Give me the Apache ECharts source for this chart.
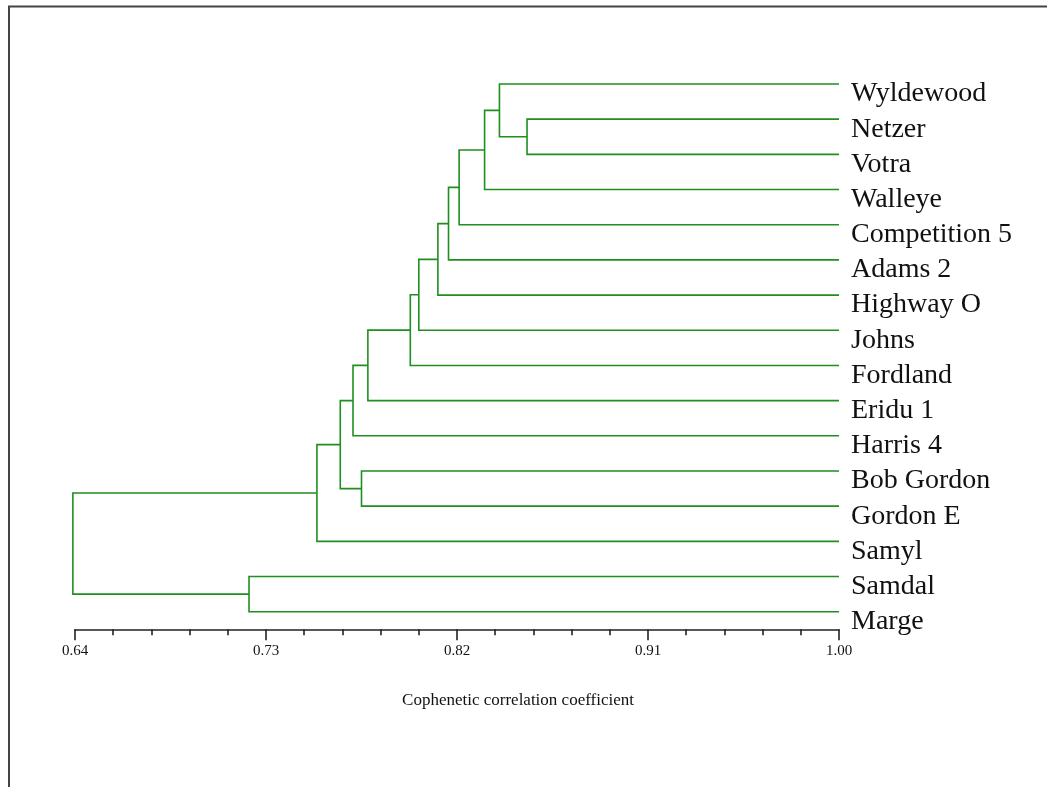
<!DOCTYPE html>
<html>
<head>
<meta charset="utf-8">
<script src="https://cdn.jsdelivr.net/npm/echarts@6/dist/echarts.min.js"></script>
<style>
html,body{margin:0;padding:0;background:#fff;}
#chart{width:1047px;height:787px;}
</style>
</head>
<body>
<div id="chart"></div>
<script>
// Leaves, top to bottom
const leaves = ["Wyldewood","Netzer","Votra","Walleye","Competition 5","Adams 2","Highway O","Johns","Fordland","Eridu 1","Harris 4","Bob Gordon","Gordon E","Samyl","Samdal","Marge"];
// Merges (children referenced by leaf name or merge id "m1".."m15")
const mergeLeft   = ["Netzer","Wyldewood","m2","m3","m4","m5","m6","m7","m8","m9","Bob Gordon","m10","m12","Samdal","m13"];
const mergeRight  = ["Votra","m1","Walleye","Competition 5","Adams 2","Highway O","Johns","Fordland","Eridu 1","Harris 4","Gordon E","m11","Samyl","Marge","m14"];
const mergeHeight = [0.853,0.840,0.833,0.821,0.816,0.811,0.802,0.798,0.778,0.771,0.775,0.765,0.754,0.722,0.639];
// Axis
const leafHeight = 1.00;
const xMin = 0.64, xMax = 1.00;
const majorTicks = [0.64, 0.73, 0.82, 0.91, 1.00];
const axisTitle = "Cophenetic correlation coefficient";

// Build node positions
const nodeY = {}, nodeH = {};
leaves.forEach((n, i) => { nodeY[n] = i; nodeH[n] = leafHeight; });
const mergeData = [];
mergeHeight.forEach((h, k) => {
  const a = mergeLeft[k], b = mergeRight[k];
  const ya = nodeY[a], yb = nodeY[b];
  mergeData.push([h, ya, yb, nodeH[a], nodeH[b]]);
  const id = "m" + (k + 1);
  nodeY[id] = (ya + yb) / 2;
  nodeH[id] = h;
});
const labelData = leaves.map((n, i) => [leafHeight, i, n]);

// minor ticks: 5 divisions between majors
const minorTicks = [];
for (let i = 0; i < majorTicks.length - 1; i++) {
  const step = (majorTicks[i + 1] - majorTicks[i]) / 5;
  for (let j = 1; j < 5; j++) minorTicks.push(+(majorTicks[i] + step * j).toFixed(4));
}

const green = "#1f8f1f";
const serif = "'Liberation Serif', 'Times New Roman', serif";

const chart = echarts.init(document.getElementById('chart'), null, {renderer: 'canvas'});
chart.setOption({
  animation: false,
  backgroundColor: '#fff',
  grid: {left: 75, right: 208, top: 66.4, bottom: 157.7, containLabel: false},
  xAxis: [{
    type: 'value', min: xMin, max: xMax, position: 'bottom',
    axisLine: {show: true, onZero: false, lineStyle: {color: '#222', width: 1.6}},
    axisTick: {show: true, customValues: majorTicks, length: 11, lineStyle: {color: '#222', width: 1.6}},
    axisLabel: {show: true, customValues: majorTicks, margin: 14, color: '#111', fontFamily: serif, fontSize: 15,
      formatter: v => v.toFixed(2)},
    splitLine: {show: false}
  }, {
    type: 'value', min: xMin, max: xMax, position: 'bottom', gridIndex: 0,
    axisLine: {show: false, onZero: false},
    axisTick: {show: true, customValues: minorTicks, length: 6, lineStyle: {color: '#222', width: 1.6}},
    axisLabel: {show: false},
    splitLine: {show: false}
  }],
  yAxis: {
    type: 'value', min: -0.5, max: 15.5, inverse: true, show: false,
    axisLine: {onZero: false}, splitLine: {show: false}
  },
  graphic: [
    {type: 'polyline', shape: {points: [[9, 790], [9, 6.5], [1050, 6.5]]}, style: {stroke: '#444', lineWidth: 2, fill: null}, silent: true},
    {type: 'text', x: 518, y: 701, style: {text: axisTitle, font: '17px ' + serif, fill: '#111', textAlign: 'center', textVerticalAlign: 'middle'}}
  ],
  series: [{
    type: 'custom',
    coordinateSystem: 'cartesian2d',
    encode: {x: [0, 3, 4], y: [1, 2]},
    data: mergeData,
    renderItem: function (params, api) {
      const h = api.value(0), ya = api.value(1), yb = api.value(2), ha = api.value(3), hb = api.value(4);
      const pts = [api.coord([ha, ya]), api.coord([h, ya]), api.coord([h, yb]), api.coord([hb, yb])];
      return {type: 'polyline', shape: {points: pts}, style: {stroke: green, lineWidth: 1.6, fill: null}};
    }
  }, {
    type: 'custom',
    coordinateSystem: 'cartesian2d',
    encode: {x: 0, y: 1},
    data: labelData,
    renderItem: function (params, api) {
      const p = api.coord([api.value(0), api.value(1)]);
      return {type: 'text', x: p[0] + 12, y: p[1] + 10,
        style: {text: labelData[params.dataIndex][2], font: '28px ' + serif, fill: '#111', textAlign: 'left', textVerticalAlign: 'middle'}};
    }
  }]
});
</script>
</body>
</html>
